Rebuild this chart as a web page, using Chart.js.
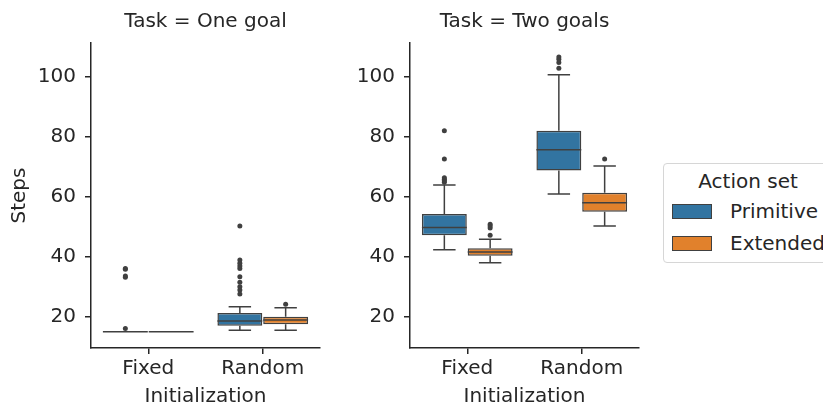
<!DOCTYPE html>
<html>
<head>
    <title>Steps by initialization, action set and task</title>
    <script src="https://cdn.jsdelivr.net/npm/chart.js@4.4.0/dist/chart.umd.min.js"></script>
    <style>
        body {
            margin: 0;
            background: white;
            font-family: 'DejaVu Sans', sans-serif;
            color: #262626;
        }
        #wrap {
            position: relative;
            width: 823px;
            height: 405px;
            overflow: hidden;
        }
        #oneGoal { position: absolute; left: 0; top: 0; }
        #twoGoals { position: absolute; left: 330px; top: 0; }
        .legend {
            position: absolute;
            left: 663px;
            top: 163px;
            width: 168px;
            height: 98px;
            border: 1px solid #d6d6d6;
            border-radius: 4px;
            font-size: 20px;
        }
        .legend .title {
            position: absolute;
            left: 0; right: 0; top: 5px;
            text-align: center;
        }
        .legend .item {
            position: absolute;
            left: 8px;
            height: 24px;
            line-height: 24px;
        }
        .legend .swatch {
            display: inline-block;
            width: 38px;
            height: 13px;
            border: 1px solid #404040;
            vertical-align: middle;
            margin-right: 18px;
            margin-top: -3px;
        }
    </style>
</head>
<body>
    <div id="wrap">
        <canvas id="oneGoal" width="330" height="405"></canvas>
        <canvas id="twoGoals" width="330" height="405"></canvas>
        <div class="legend">
            <div class="title">Action set</div>
            <div class="item" style="top: 35px;"><span class="swatch" id="sw0"></span><span id="lb0"></span></div>
            <div class="item" style="top: 67px;"><span class="swatch" id="sw1"></span><span id="lb1"></span></div>
        </div>
    </div>

    <script>
        // categories and hue levels
        const categories = ['Fixed', 'Random'];
        const actionSets = ['Primitive', 'Extended'];
        const hueColors = ['#3274a1', '#e1812c'];
        const yTicks = [20, 40, 60, 80, 100];
        const yMin = 9.6;
        const yMax = 111.2;

        // Task = One goal  (index 0 = Fixed, 1 = Random)
        const onePrimLo  = [15, 15.5];
        const onePrimQ1  = [15, 17.0];
        const onePrimMed = [15, 18.6];
        const onePrimQ3  = [15, 21.3];
        const onePrimHi  = [15, 23.3];
        const onePrimOut = [[16.1, 33.2, 33.6, 35.8, 36.1],
                            [27.6, 28.9, 30.0, 31.5, 33.3, 36.1, 36.9, 37.8, 38.9, 50.2]];

        const oneExtLo  = [15, 15.5];
        const oneExtQ1  = [15, 17.5];
        const oneExtMed = [15, 18.9];
        const oneExtQ3  = [15, 20.0];
        const oneExtHi  = [15, 23.0];
        const oneExtOut = [[], [24.2]];

        // Task = Two goals
        const twoPrimLo  = [42.3, 60.9];
        const twoPrimQ1  = [47.2, 68.7];
        const twoPrimMed = [49.7, 75.6];
        const twoPrimQ3  = [54.2, 82.0];
        const twoPrimHi  = [63.9, 100.6];
        const twoPrimOut = [[64.8, 65.3, 65.8, 66.3, 72.6, 82.0],
                            [102.8, 104.7, 105.8, 106.5]];

        const twoExtLo  = [38.0, 50.2];
        const twoExtQ1  = [40.3, 55.0];
        const twoExtMed = [41.6, 58.0];
        const twoExtQ3  = [42.8, 61.3];
        const twoExtHi  = [45.8, 70.2];
        const twoExtOut = [[47.2, 49.6, 50.2, 50.8], [72.6]];

        const ink = '#262626';
        const lineGray = '#404040';

        Chart.defaults.font.family = "'DejaVu Sans', sans-serif";
        Chart.defaults.font.size = 20;
        Chart.defaults.color = ink;

        // whiskers, caps, medians and fliers, placed on each box bar
        const boxWhiskers = {
            id: 'boxWhiskers',
            afterDatasetsDraw(chart) {
                const ctx = chart.ctx;
                const y = chart.scales.y;
                chart.data.datasets.forEach((ds, d) => {
                    const s = ds.stats;
                    chart.getDatasetMeta(d).data.forEach((bar, i) => {
                        const x = bar.x;
                        const w = bar.width;
                        ctx.save();
                        ctx.strokeStyle = lineGray;
                        ctx.lineWidth = 1.5;
                        ctx.beginPath();
                        ctx.moveTo(x, y.getPixelForValue(s.q1[i]));
                        ctx.lineTo(x, y.getPixelForValue(s.lo[i]));
                        ctx.moveTo(x, y.getPixelForValue(s.q3[i]));
                        ctx.lineTo(x, y.getPixelForValue(s.hi[i]));
                        ctx.moveTo(x - w / 4, y.getPixelForValue(s.lo[i]));
                        ctx.lineTo(x + w / 4, y.getPixelForValue(s.lo[i]));
                        ctx.moveTo(x - w / 4, y.getPixelForValue(s.hi[i]));
                        ctx.lineTo(x + w / 4, y.getPixelForValue(s.hi[i]));
                        ctx.moveTo(x - w / 2, y.getPixelForValue(s.med[i]));
                        ctx.lineTo(x + w / 2, y.getPixelForValue(s.med[i]));
                        ctx.stroke();
                        ctx.fillStyle = lineGray;
                        s.out[i].forEach(v => {
                            ctx.beginPath();
                            ctx.arc(x, y.getPixelForValue(v), 2.5, 0, Math.PI * 2);
                            ctx.fill();
                        });
                        ctx.restore();
                    });
                });
            }
        };

        function boxDataset(label, color, lo, q1, med, q3, hi, out) {
            return {
                label: label,
                data: q1.map((v, i) => [v, q3[i]]),
                backgroundColor: color,
                borderColor: lineGray,
                borderWidth: 1.5,
                borderSkipped: false,
                categoryPercentage: 0.8,
                barPercentage: 0.98,
                stats: { lo, q1, med, q3, hi, out }
            };
        }

        function panelOptions(title, showYTitle, yWidth, padRight) {
            return {
                responsive: false,
                animation: false,
                layout: { padding: { left: 0, right: padRight, top: 0, bottom: 0 } },
                plugins: {
                    legend: { display: false },
                    tooltip: { enabled: false },
                    title: {
                        display: true,
                        text: title,
                        fullSize: false,
                        color: ink,
                        font: { size: 20, weight: 'normal' },
                        padding: { top: 10, bottom: 9 }
                    }
                },
                scales: {
                    x: {
                        grid: { drawOnChartArea: false, offset: false, tickLength: 6, color: ink, lineWidth: 1.5 },
                        border: { color: ink, width: 1.5 },
                        ticks: { padding: 3, color: ink },
                        title: {
                            display: true,
                            text: 'Initialization',
                            color: ink,
                            padding: { top: 0, bottom: -4 }
                        },
                        afterFit: s => { s.height = 57; }
                    },
                    y: {
                        min: yMin,
                        max: yMax,
                        afterBuildTicks: s => { s.ticks = yTicks.map(v => ({ value: v })); },
                        grid: { drawOnChartArea: false, tickLength: 6, color: ink, lineWidth: 1.5 },
                        border: { color: ink, width: 1.5 },
                        ticks: { padding: 9, color: ink },
                        title: {
                            display: showYTitle,
                            text: 'Steps',
                            color: ink,
                            padding: { top: 7.5, bottom: 0 }
                        },
                        afterFit: s => { s.width = yWidth; }
                    }
                }
            };
        }

        new Chart(document.getElementById('oneGoal'), {
            type: 'bar',
            data: {
                labels: categories,
                datasets: [
                    boxDataset(actionSets[0], hueColors[0], onePrimLo, onePrimQ1, onePrimMed, onePrimQ3, onePrimHi, onePrimOut),
                    boxDataset(actionSets[1], hueColors[1], oneExtLo, oneExtQ1, oneExtMed, oneExtQ3, oneExtHi, oneExtOut)
                ]
            },
            options: panelOptions('Task = One goal', true, 91, 10),
            plugins: [boxWhiskers]
        });

        new Chart(document.getElementById('twoGoals'), {
            type: 'bar',
            data: {
                labels: categories,
                datasets: [
                    boxDataset(actionSets[0], hueColors[0], twoPrimLo, twoPrimQ1, twoPrimMed, twoPrimQ3, twoPrimHi, twoPrimOut),
                    boxDataset(actionSets[1], hueColors[1], twoExtLo, twoExtQ1, twoExtMed, twoExtQ3, twoExtHi, twoExtOut)
                ]
            },
            options: panelOptions('Task = Two goals', false, 80, 21),
            plugins: [boxWhiskers]
        });

        // legend entries
        actionSets.forEach((name, i) => {
            document.getElementById('sw' + i).style.background = hueColors[i];
            document.getElementById('lb' + i).textContent = name;
        });
    </script>
</body>
</html>
